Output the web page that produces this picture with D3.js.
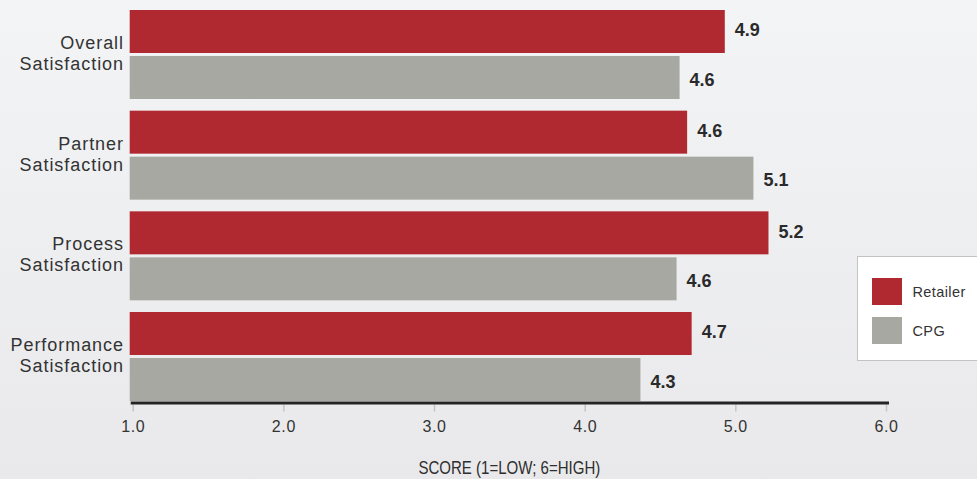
<!DOCTYPE html>
<html>
<head>
<meta charset="utf-8">
<script src="https://cdn.jsdelivr.net/npm/d3@7"></script>
<style>
  html, body { margin: 0; padding: 0; }
  body { width: 977px; height: 479px; overflow: hidden; }
  svg { display: block; }
</style>
</head>
<body>
<svg id="chart" width="977" height="479"></svg>
<script>
// Survey scores by dimension, retailers vs. consumer packaged goods makers
const categories = [
  ["Overall", "Satisfaction"],
  ["Partner", "Satisfaction"],
  ["Process", "Satisfaction"],
  ["Performance", "Satisfaction"]
];
const seriesNames = ["Retailer", "CPG"];
const retailerScores = [4.93, 4.68, 5.22, 4.71];
const cpgScores = [4.63, 5.12, 4.61, 4.37];
const tickValues = [1, 2, 3, 4, 5, 6];
const axisTitle = "SCORE (1=LOW; 6=HIGH)";

const colors = { Retailer: "#b02931", CPG: "#a8a8a3" };
const seriesValues = { Retailer: retailerScores, CPG: cpgScores };
const labelNudge = { Retailer: -1.8, CPG: 1.8 };

const svg = d3.select("#chart");
const W = 977, H = 479;

// soft vertical background wash
const defs = svg.append("defs");
const grad = defs.append("linearGradient")
  .attr("id", "bg").attr("x1", 0).attr("y1", 0).attr("x2", 0).attr("y2", 1);
grad.append("stop").attr("offset", "0%").attr("stop-color", "#f3f4f6");
grad.append("stop").attr("offset", "100%").attr("stop-color", "#e9e9eb");
svg.append("rect").attr("width", W).attr("height", H).attr("fill", "url(#bg)");

const x = d3.scaleLinear().domain([1, 6]).range([132.7, 886]);
const barInset = 3; // bars and baseline start a hair left of the 1.0 tick

const groupKeys = categories.map(c => c.join(" "));
const y = d3.scaleBand().domain(groupKeys).range([10, 401]).paddingInner(0.116).paddingOuter(0);
const ySub = d3.scaleBand().domain(seriesNames).range([0, y.bandwidth()]).paddingInner(0.065);

const labelFont = "'Liberation Sans', Arial, sans-serif";

// bars and value labels
const groups = svg.append("g").selectAll("g")
  .data(categories)
  .join("g")
  .attr("transform", (d, i) => `translate(0,${y(groupKeys[i])})`);

groups.each(function (cat, i) {
  const g = d3.select(this);
  seriesNames.forEach(s => {
    const v = seriesValues[s][i];
    g.append("rect")
      .attr("x", x(1) - barInset)
      .attr("y", ySub(s))
      .attr("width", x(v) - x(1) + barInset)
      .attr("height", ySub.bandwidth())
      .attr("fill", colors[s]);
    g.append("text")
      .attr("x", x(v) + 10)
      .attr("y", ySub(s) + ySub.bandwidth() / 2 + 6.5 + labelNudge[s])
      .attr("font-family", labelFont)
      .attr("font-weight", "bold")
      .attr("font-size", 18)
      .attr("fill", "#2a2a2a")
      .text((Math.floor(v * 10 + 1e-9) / 10).toFixed(1));
  });

  // two-line category label, right aligned against the bars
  const cy = y.bandwidth() / 2;
  const t = g.append("text")
    .attr("text-anchor", "end")
    .attr("font-family", labelFont)
    .attr("font-size", 18)
    .attr("letter-spacing", 0.95)
    .attr("fill", "#333333");
  t.append("tspan").attr("x", 124).attr("y", cy - 5.5).text(cat[0]);
  t.append("tspan").attr("x", 124).attr("y", cy + 15.5).text(cat[1]);
});

// x axis
const axisY = 403;
const axisG = svg.append("g")
  .attr("transform", `translate(0,${axisY + 1.5})`)
  .call(d3.axisBottom(x).tickValues(tickValues).tickFormat(d3.format(".1f")).tickSize(7).tickPadding(9));
axisG.select(".domain").remove();
axisG.selectAll(".tick line").attr("stroke", "#c4c4c4").attr("stroke-width", 1.5);
axisG.selectAll(".tick text")
  .attr("font-family", labelFont)
  .attr("font-size", 16)
  .attr("letter-spacing", 0.6)
  .attr("fill", "#333333");

svg.append("line")
  .attr("x1", x(1) - barInset + 1).attr("x2", x(6) + 3)
  .attr("y1", axisY).attr("y2", axisY)
  .attr("stroke", "#242424").attr("stroke-width", 3);

// narrow-set axis title
const titleX = (x(1) + x(6)) / 2;
svg.append("text")
  .attr("transform", `translate(${titleX},474) scale(0.86,1)`)
  .attr("text-anchor", "middle")
  .attr("font-family", labelFont)
  .attr("font-size", 17.5)
  .attr("fill", "#2e2e2e")
  .text(axisTitle);

// legend, running off the right edge
const legend = svg.append("g");
legend.append("rect")
  .attr("x", 857.5).attr("y", 256.5)
  .attr("width", 140).attr("height", 104)
  .attr("fill", "#ffffff")
  .attr("stroke", "#c3c3c3").attr("stroke-width", 1);

seriesNames.forEach((s, i) => {
  const row = legend.append("g").attr("transform", `translate(872,${278 + i * 39})`);
  row.append("rect").attr("width", 30).attr("height", 27).attr("fill", colors[s]);
  row.append("text")
    .attr("x", 40.5).attr("y", 18.5)
    .attr("font-family", labelFont)
    .attr("font-size", 14.5)
    .attr("letter-spacing", 0.4)
    .attr("fill", "#333333")
    .text(s);
});
</script>
</body>
</html>
